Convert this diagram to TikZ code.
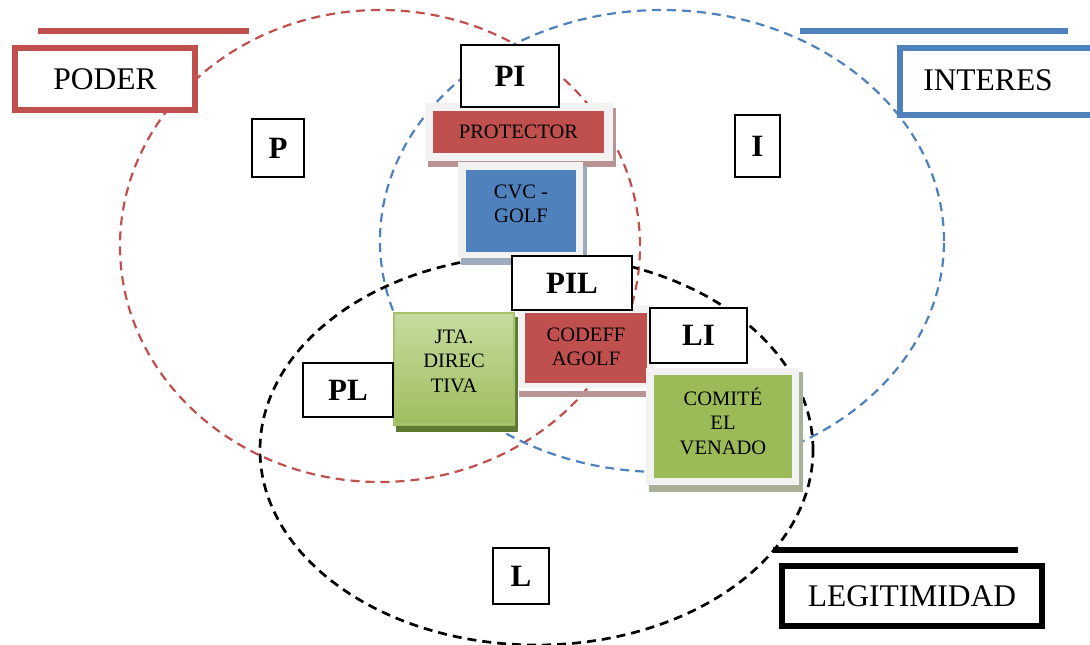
\documentclass[tikz,border=0pt]{standalone}
\usepackage{fontspec}
\setmainfont{Liberation Serif}
\definecolor{pRed}{HTML}{C0504D}
\definecolor{pBlue}{HTML}{4F81BD}
\definecolor{pGreen}{HTML}{9BBB59}
\definecolor{frameGray}{HTML}{F2F2F2}
\definecolor{redShadow}{HTML}{B99494}
\definecolor{blueShadow}{HTML}{9DABBE}
\definecolor{greenShadow}{HTML}{A8B198}
\definecolor{oliveShadow}{HTML}{5E7A32}
\definecolor{gradTop}{HTML}{C6DCA0}
\definecolor{gradBot}{HTML}{9EBE5E}
\definecolor{gradEdge}{HTML}{A6C46E}
\begin{document}
\begin{tikzpicture}[x=1pt,y=-1pt,
  setline/.style={dash pattern=on 9pt off 6pt, line width=2.2pt},
  tag/.style={draw=black, line width=1.5pt, fill=white, inner sep=0pt,
    font=\fontsize{31}{31}\selectfont\bfseries},
  titlebox/.style={line width=6pt, fill=white, inner sep=0pt,
    font=\fontsize{31.5}{31.5}\selectfont},
  boxtext/.style={align=center, inner sep=0pt,
    font=\fontsize{20.5}{24.5}\selectfont}]
\useasboundingbox (0,0) rectangle (1090,645);

% three overlapping sets
\draw[setline, pRed] (380,246) ellipse [x radius=260pt, y radius=236pt];
\draw[setline, pBlue] (662,241) ellipse [x radius=282pt, y radius=231pt];
\draw[setline, black, line width=2.7pt] (536.5,450) ellipse [x radius=276.5pt, y radius=195pt];

% category headings
\draw[pRed, line width=6.5pt] (38,31) -- (249,31);
\node[titlebox, draw=pRed, minimum width=180pt, minimum height=62pt] (poder) at (105,79) {PODER};
\draw[pBlue, line width=6.5pt] (800,31) -- (1068,31);
\draw[pBlue, line width=6.5pt, fill=white] (900,48) rectangle (1094,115);
\node[font=\fontsize{31.5}{31.5}\selectfont] (interes) at (988,80) {INTERES};
\draw[black, line width=6.5pt] (773,550) -- (1018,550);
\node[titlebox, draw=black, minimum width=260pt, minimum height=60pt] (legit) at (912,596) {LEGITIMIDAD};

% PROTECTOR
\fill[redShadow] (428,108) rectangle (616,167);
\fill[frameGray] (425,103) rectangle (613,161);
\fill[pRed] (433,111) rectangle (604,153);
\node[boxtext] (protector) at (518.5,132) {PROTECTOR};

% CVC - GOLF
\fill[blueShadow] (461,166) rectangle (587,265);
\fill[frameGray] (458,162) rectangle (583,258);
\fill[pBlue] (466,170) rectangle (576,252);
\node[boxtext] (cvc) at (521,204) {CVC -\\GOLF};

% CODEFF AGOLF
\fill[redShadow] (519,391) rectangle (647,397);
\fill[frameGray] (517,305) rectangle (654,388);
\fill[pRed] (525,313) rectangle (647,383);
\node[boxtext] (codeff) at (586,347) {CODEFF\\AGOLF};

% JTA. DIRECTIVA
\fill[oliveShadow] (396,317) rectangle (518,432);
\shade[top color=gradTop, bottom color=gradBot] (393,312) rectangle (515,425);
\draw[gradEdge, line width=2pt] (394,313) rectangle (514,424);
\node[boxtext] (jta) at (454,361) {JTA.\\DIREC\\TIVA};

% COMITE EL VENADO
\fill[greenShadow] (649,372) rectangle (803,492);
\fill[frameGray] (646,368) rectangle (799,485);
\fill[pGreen] (654,375) rectangle (792,478);
\node[boxtext] (comite) at (723,421) {COMITÉ\\EL\\VENADO};

% region labels
\node[tag, minimum width=52pt, minimum height=58pt] (p) at (278,148) {P};
\node[tag, minimum width=45pt, minimum height=62pt] (i) at (757.5,146) {I};
\node[tag, minimum width=98pt, minimum height=62pt] (pi) at (510,76) {PI};
\node[tag, minimum width=120pt, minimum height=54pt] (pil) at (572,283) {PIL};
\node[tag, minimum width=97pt, minimum height=55pt] (li) at (698.5,335.5) {LI};
\node[tag, minimum width=90pt, minimum height=54pt] (pl) at (348,390) {PL};
\node[tag, minimum width=56pt, minimum height=56pt] (l) at (521,576) {L};
\end{tikzpicture}
\end{document}
